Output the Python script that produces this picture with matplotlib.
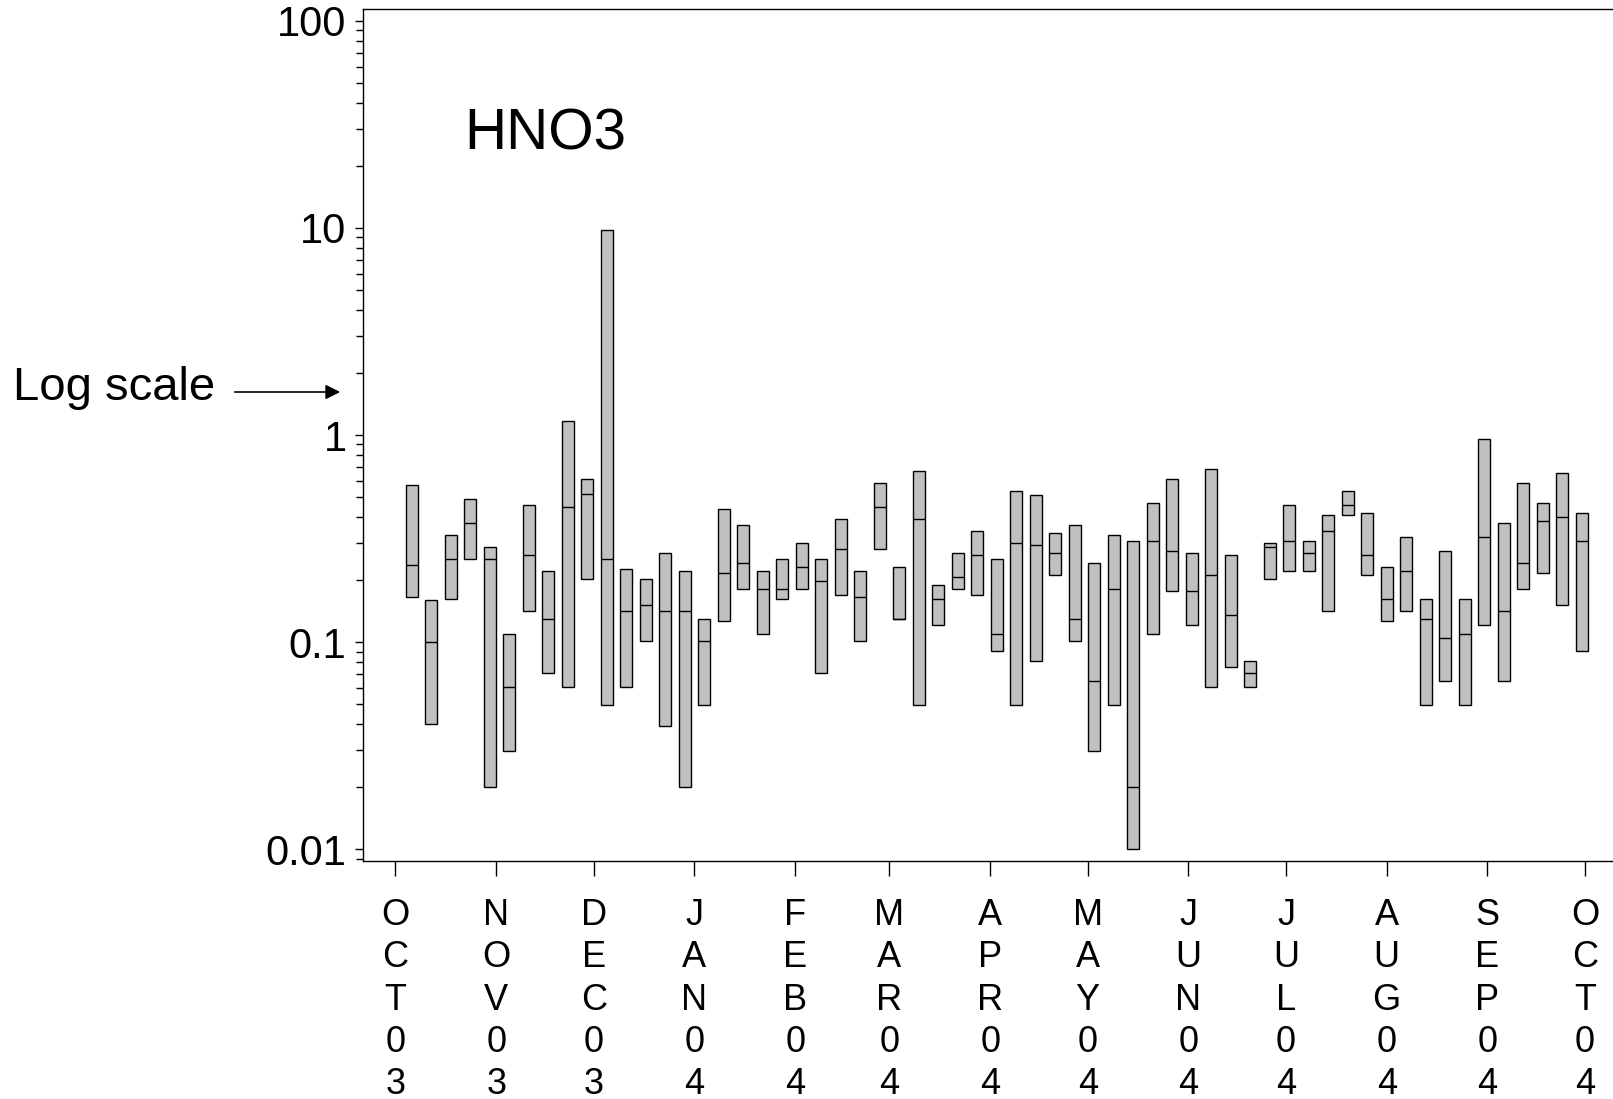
import matplotlib
matplotlib.use('Agg')
import datetime as dt
import matplotlib.pyplot as plt
import matplotlib.dates as mdates
import matplotlib.ticker as mticker
import numpy as np

plt.rcParams['font.family'] = ['Liberation Sans', 'DejaVu Sans']

# sampling every 6 days, starting 6 Oct 2003
start = dt.date(2003, 10, 6)
n_samples = 61
dates = [start + dt.timedelta(days=6 * k) for k in range(n_samples)]

# max / median / min per sampling day
hi = [0.571, 0.16, 0.328, 0.491, 0.287, 0.110, 0.458, 0.220, 1.165, 0.611,
      9.77, 0.225, 0.201, 0.268, 0.220, 0.129, 0.439, 0.366, 0.220, 0.251,
      0.300, 0.251, 0.392, 0.220, 0.584, 0.230, 0.672, 0.188, 0.268, 0.343,
      0.251, 0.535, 0.511, 0.335, 0.366, 0.240, 0.328, 0.307, 0.468, 0.611,
      0.268, 0.683, 0.262, 0.0808, 0.300, 0.458, 0.307, 0.410, 0.535, 0.419,
      0.230, 0.321, 0.161, 0.274, 0.161, 0.953, 0.375, 0.584, 0.468, 0.653,
      0.419]
med = [0.236, 0.10, 0.251, 0.375, 0.251, 0.0605, 0.263, 0.129, 0.448, 0.521,
       0.251, 0.141, 0.151, 0.141, 0.141, 0.101, 0.216, 0.240, 0.180, 0.180,
       0.230, 0.197, 0.281, 0.165, 0.448, 0.129, 0.392, 0.161, 0.206, 0.262,
       0.110, 0.300, 0.293, 0.268, 0.129, 0.0647, 0.180, 0.0199, 0.307, 0.274,
       0.176, 0.210, 0.135, 0.0707, 0.287, 0.307, 0.268, 0.343, 0.458, 0.262,
       0.161, 0.220, 0.129, 0.105, 0.110, 0.321, 0.141, 0.240, 0.383, 0.401,
       0.307]
lo = [0.165, 0.04, 0.161, 0.251, 0.0199, 0.0297, 0.141, 0.0707, 0.0605, 0.201,
      0.0495, 0.0605, 0.101, 0.0395, 0.0199, 0.0495, 0.126, 0.180, 0.110, 0.161,
      0.180, 0.0707, 0.168, 0.101, 0.281, 0.129, 0.0495, 0.121, 0.180, 0.168,
      0.0903, 0.0495, 0.0808, 0.210, 0.101, 0.0297, 0.0495, 0.0100, 0.110, 0.176,
      0.121, 0.0605, 0.0755, 0.0605, 0.201, 0.220, 0.220, 0.141, 0.410, 0.210,
      0.126, 0.141, 0.0495, 0.0647, 0.0495, 0.121, 0.0647, 0.180, 0.215, 0.151,
      0.0903]

month_labels = ['OCT03', 'NOV03', 'DEC03', 'JAN04', 'FEB04', 'MAR04', 'APR04',
                'MAY04', 'JUN04', 'JUL04', 'AUG04', 'SEP04', 'OCT04']

fig = plt.figure(figsize=(16.13, 10.99), dpi=100)
ax = fig.add_axes([0.2252, 0.2166, 0.7977, 0.7749])

x = mdates.date2num(dates)
hi = np.array(hi)
lo = np.array(lo)
med = np.array(med)
w = 3.8
ax.bar(x, hi - lo, bottom=lo, width=w, color='#c0c0c0', edgecolor='black',
       linewidth=1.0, zorder=2)
ax.hlines(med, x - w / 2, x + w / 2, colors='black', linewidth=1.0, zorder=3)

ax.set_yscale('log')
ax.set_ylim(0.00877, 113.7)
ax.yaxis.set_major_locator(mticker.FixedLocator([0.01, 0.1, 1, 10, 100]))
ax.yaxis.set_major_formatter(mticker.FixedFormatter(['0.01', '0.1', '1', '10', '100']))
ax.yaxis.set_minor_locator(mticker.LogLocator(base=10, subs=np.arange(2, 10)))
ax.yaxis.set_minor_formatter(mticker.NullFormatter())

origin = mdates.date2num(dt.date(2003, 10, 1))
ax.set_xlim(origin - 9.91, origin + 386.0)
ticks = [mdates.date2num(dt.date(2003 + (9 + i) // 12, (9 + i) % 12 + 1, 1))
         for i in range(13)]
ax.set_xticks(ticks)
ax.set_xticklabels(['\n'.join(s) for s in month_labels], fontsize=26,
                   linespacing=1.27)

ax.tick_params(axis='y', which='major', direction='out', length=6, width=1,
               labelsize=30, pad=6)
ax.tick_params(axis='y', which='minor', direction='out', length=4.7, width=1)
ax.tick_params(axis='x', which='major', direction='out', length=10.8, width=1,
               pad=16)
ax.spines['right'].set_visible(False)
for s in ['left', 'top', 'bottom']:
    ax.spines[s].set_linewidth(1.0)

fig.text(464 / 1613, 1 - 150 / 1099, 'HNO3', fontsize=42, ha='left',
         va='baseline')
fig.text(13 / 1613, 1 - 400 / 1099, 'Log scale', fontsize=34, ha='left',
         va='baseline')
fig.add_artist(matplotlib.patches.FancyArrowPatch(
    (232 / 1613, 1 - 392 / 1099), (343 / 1613, 1 - 392 / 1099),
    transform=fig.transFigure, arrowstyle='-|>', mutation_scale=22,
    color='black', linewidth=1.2))

fig.savefig('out.png', dpi=100)
